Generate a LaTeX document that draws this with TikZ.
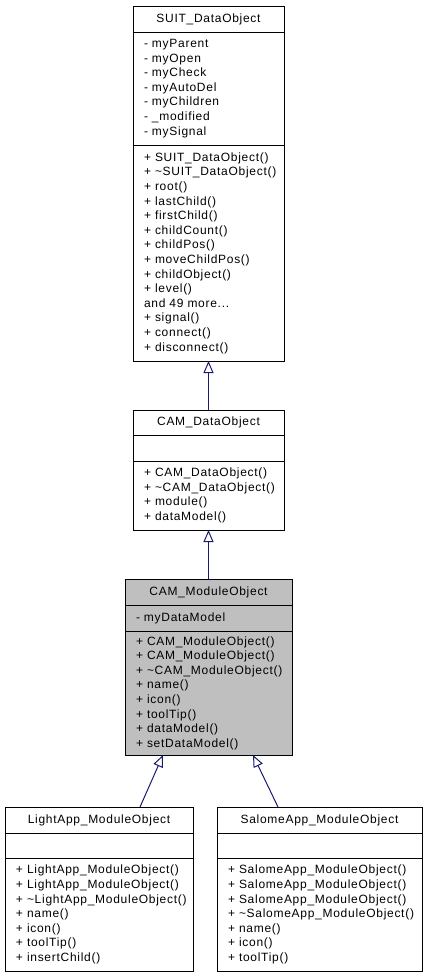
\documentclass[tikz,border=0pt]{standalone}
\usepackage{fontspec}
\setmainfont{Liberation Sans}[LetterSpace=6]
\usepackage{tikz}
\usetikzlibrary{arrows.meta}

\definecolor{umledge}{HTML}{191970}
\definecolor{umlgray}{HTML}{BFBFBF}
\hyphenpenalty=10000
\exhyphenpenalty=10000
\hbadness=10000
\hfuzz=100pt

\begin{document}
\begin{tikzpicture}[x=1pt, y=-1pt]
        \useasboundingbox (0,0) rectangle (427,977);

        \begin{scope}[every node/.style={draw, line width=1pt, anchor=north west, outer sep=0pt, inner xsep=11pt, inner ysep=0pt, align=left, font=\fontsize{12pt}{14.6pt}\selectfont}]
            \node[align=center, text width=129pt, minimum height=26pt] (S1) at (133, 6) {SUIT\_DataObject};
            \node[text width=129pt, minimum height=113pt] (S2) at (133, 32) {-~myParent\\-~myOpen\\-~myCheck\\-~myAutoDel\\-~myChildren\\-~\_modified\\-~mySignal};
            \node[text width=129pt, minimum height=216pt] (S3) at (133, 145) {+~SUIT\_DataObject()\\+~\textasciitilde SUIT\_DataObject()\\+~root()\\+~lastChild()\\+~firstChild()\\+~childCount()\\+~childPos()\\+~moveChildPos()\\+~childObject()\\+~level()\\and~49~more...\\+~signal()\\+~connect()\\+~disconnect()};

            \node[align=center, text width=129pt, minimum height=25pt] (D1) at (133, 410) {CAM\_DataObject};
            \node[text width=129pt, minimum height=26pt] (D2) at (133, 435) {};
            \node[text width=129pt, minimum height=69pt] (D3) at (133, 461) {+~CAM\_DataObject()\\+~\textasciitilde CAM\_DataObject()\\+~module()\\+~dataModel()};

            \begin{scope}[every node/.append style={fill=umlgray}]
            \node[align=center, text width=145pt, minimum height=26pt] (M1) at (125, 579) {CAM\_ModuleObject};
            \node[text width=145pt, minimum height=26pt] (M2) at (125, 605) {-~myDataModel};
            \node[text width=145pt, minimum height=124pt] (M3) at (125, 631) {+~CAM\_ModuleObject()\\+~CAM\_ModuleObject()\\+~\textasciitilde CAM\_ModuleObject()\\+~name()\\+~icon()\\+~toolTip()\\+~dataModel()\\+~setDataModel()};
            \end{scope}

            \node[align=center, text width=166pt, minimum height=26pt] (L1) at (5, 807) {LightApp\_ModuleObject};
            \node[text width=166pt, minimum height=25pt] (L2) at (5, 833) {};
            \node[text width=166pt, minimum height=113pt] (L3) at (5, 858) {+~LightApp\_ModuleObject()\\+~LightApp\_ModuleObject()\\+~\textasciitilde LightApp\_ModuleObject()\\+~name()\\+~icon()\\+~toolTip()\\+~insertChild()};

            \node[align=center, text width=183pt, minimum height=26pt] (A1) at (217, 807) {SalomeApp\_ModuleObject};
            \node[text width=183pt, minimum height=25pt] (A2) at (217, 833) {};
            \node[text width=183pt, minimum height=113pt] (A3) at (217, 858) {+~SalomeApp\_ModuleObject()\\+~SalomeApp\_ModuleObject()\\+~SalomeApp\_ModuleObject()\\+~\textasciitilde SalomeApp\_ModuleObject()\\+~name()\\+~icon()\\+~toolTip()};
        \end{scope}

        \begin{scope}[every edge/.style={draw=umledge, line width=1pt, -{Triangle[open, length=12pt, width=10pt]}}]
            \path (D1) edge (S3);
            \path (M1) edge (D3);
            \path ([xshift=41pt]L1.north) edge ([xshift=-45.5pt]M3.south);
            \path ([xshift=-41.5pt]A1.north) edge ([xshift=44.5pt]M3.south);
        \end{scope}
    \end{tikzpicture}
\end{document}
